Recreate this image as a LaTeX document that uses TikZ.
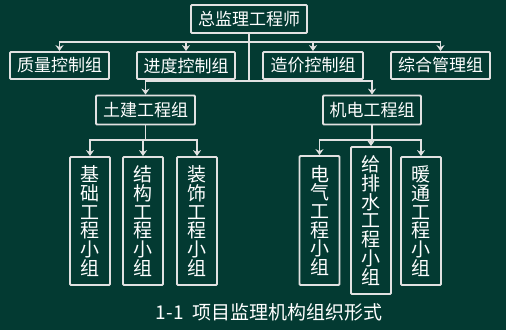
\documentclass[tikz,border=0pt]{standalone}
\usepackage{fontspec}
\newfontfamily\cjk{Noto Sans CJK SC}
\usetikzlibrary{arrows.meta}
\definecolor{board}{RGB}{3,58,50}
\definecolor{chalk}{RGB}{225,225,225}

\begin{document}
\begin{tikzpicture}[
    x=1pt, y=-1pt,
    font=\cjk\fontsize{17}{18}\selectfont,
    box/.style={draw=chalk, line width=1.8pt, rounded corners=1pt, text=white, inner sep=0pt, minimum height=27pt},
    vbox/.style={box, align=center, minimum width=40pt, font=\cjk\fontsize{19}{18.7}\selectfont},
    link/.style={draw=chalk, line width=1.8pt},
    arr/.style={link, -{Stealth[length=6pt, width=8pt]}}
]
\fill[board] (0,0) rectangle (506,330);
% chief
\node[box, minimum width=116pt, minimum height=28pt] (chief) at (249,19) {总监理工程师};
% control groups
\node[box, minimum width=99pt]  (q1) at (59.5,65.5)  {质量控制组};
\node[box, minimum width=98pt]  (q2) at (186,65.5)   {进度控制组};
\node[box, minimum width=100pt] (q3) at (313,65.5)   {造价控制组};
\node[box, minimum width=99pt]  (q4) at (440.5,65.5) {综合管理组};
% engineering groups
\node[box, minimum width=99pt, minimum height=29pt] (t1) at (145.5,110) {土建工程组};
\node[box, minimum width=98pt, minimum height=29pt] (t2) at (372,110)   {机电工程组};
% sub groups
\node[vbox, minimum height=128pt] (s1) at (90,221)    {基\\础\\工\\程\\小\\组};
\node[vbox, minimum height=128pt] (s2) at (143,221)   {结\\构\\工\\程\\小\\组};
\node[vbox, minimum height=128pt] (s3) at (197,221)   {装\\饰\\工\\程\\小\\组};
\node[vbox, minimum height=129pt] (r1) at (319.5,220.5) {电\\气\\工\\程\\小\\组};
\node[vbox, minimum height=147pt] (r2) at (371,220.5)   {给\\排\\水\\工\\程\\小\\组};
\node[vbox, minimum height=128pt] (r3) at (421,221)     {暖\\通\\工\\程\\小\\组};
% junctions
\coordinate (j1) at (249,42);
\coordinate (j2) at (249,81);
\coordinate (k1) at (145.5,140);
\coordinate (k2) at (372,140);
% connections
\draw[link] (chief.south) -- (j2);
\foreach \i in {1,2,3,4}{\draw[arr] (j1) -| (q\i.north);}
\foreach \i in {1,2}{\draw[arr] (j2) -| (t\i.north);}
\draw[link] (t1.south) -- (k1);
\draw[link] (t2.south) -- (k2);
\foreach \i in {1,2,3}{\draw[arr] (k1) -| (s\i.north);}
\foreach \i in {1,2,3}{\draw[arr] (k2) -| (r\i.north);}
% caption
\node[text=white, font=\cjk\fontsize{19}{20}\selectfont] (cap) at (269,312) {1-1\ \ 项目监理机构组织形式};
\end{tikzpicture}
\end{document}
